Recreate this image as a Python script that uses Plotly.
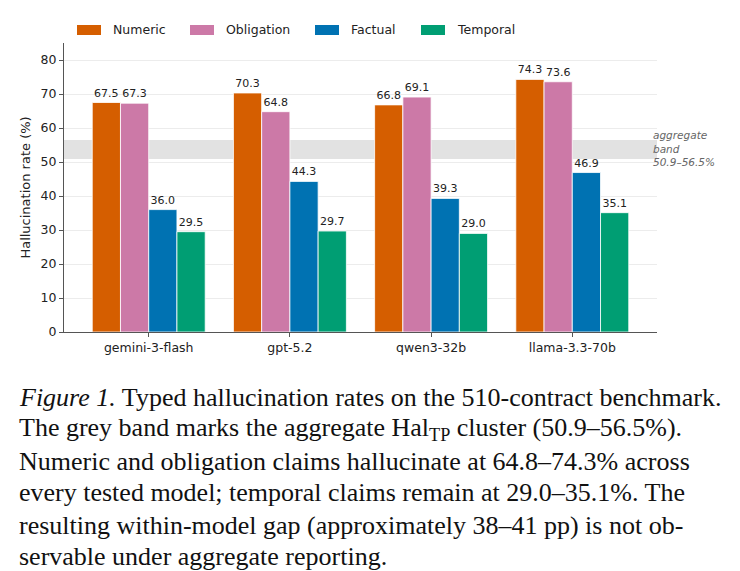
import plotly.graph_objects as go

models = ["gemini-3-flash", "gpt-5.2", "qwen3-32b", "llama-3.3-70b"]
series_names = ["Numeric", "Obligation", "Factual", "Temporal"]
numeric = [67.5, 70.3, 66.8, 74.3]
obligation = [67.3, 64.8, 69.1, 73.6]
factual = [36.0, 44.3, 39.3, 46.9]
temporal = [29.5, 29.7, 29.0, 35.1]
colors = ["#D55E00", "#CC79A7", "#0072B2", "#009E73"]
band_low, band_high = 50.9, 56.5
y_ticks = [0, 10, 20, 30, 40, 50, 60, 70, 80]

caption_lines = [
    "<i>Figure 1.</i> Typed hallucination rates on the 510-contract benchmark.",
    "The grey band marks the aggregate Hal<sub>TP</sub> cluster (50.9–56.5%).",
    "Numeric and obligation claims hallucinate at 64.8–74.3% across",
    "every tested model; temporal claims remain at 29.0–35.1%. The",
    "resulting within-model gap (approximately 38–41 pp) is not ob-",
    "servable under aggregate reporting.",
]

W, H = 740, 571
L, R, T, B = 64, 83, 43, 239
plot_h = H - T - B
plot_w = W - L - R


def px_x(p):
    return (p - L) / plot_w


def px_y(p):
    return (H - B - p) / plot_h


fig = go.Figure()
xs = list(range(len(models)))
for name, vals, col in zip(series_names, [numeric, obligation, factual, temporal], colors):
    fig.add_trace(go.Bar(
        x=xs, y=vals, name=name,
        marker=dict(color=col, line=dict(color="white", width=0.8)),
        texttemplate="%{y:.1f}", textposition="outside",
        textfont=dict(size=11, color="#222", family="DejaVu Sans"),
        cliponaxis=False, showlegend=False,
    ))

fig.add_shape(type="rect", xref="paper", yref="y", x0=0, x1=1,
              y0=band_low, y1=band_high, fillcolor="#e2e2e2",
              line=dict(width=0), layer="below")

fig.add_annotation(xref="paper", yref="y", x=px_x(651), y=(band_low + band_high) / 2 + 0.2,
                   text="<i>aggregate<br>band<br>50.9–56.5%</i>", showarrow=False,
                   xanchor="left", yanchor="middle", align="left",
                   font=dict(size=10.5, color="#666", family="DejaVu Sans"))

# manual legend (wide swatches as in the reference)
swatch_left = [77, 190, 315, 421]
for name, col, sx in zip(series_names, colors, swatch_left):
    fig.add_shape(type="rect", xref="paper", yref="paper",
                  x0=px_x(sx), x1=px_x(sx + 24), y0=px_y(35), y1=px_y(25),
                  fillcolor=col, line=dict(width=0))
    fig.add_annotation(xref="paper", yref="paper", x=px_x(sx + 34), y=px_y(30),
                       text=name, showarrow=False, xanchor="left", yanchor="middle",
                       font=dict(size=12.5, color="#222", family="DejaVu Sans"))

line_ys = [397, 429, 461, 493, 525, 556]
for txt, py in zip(caption_lines, line_ys):
    fig.add_annotation(xref="paper", yref="paper", x=px_x(17),
                       y=px_y(py), text=txt, showarrow=False,
                       xanchor="left", yanchor="middle", align="left",
                       font=dict(size=26, color="#111", family="Liberation Serif"))

fig.update_layout(
    width=W, height=H,
    margin=dict(l=L, r=R, t=T, b=B, autoexpand=False),
    paper_bgcolor="white", plot_bgcolor="white",
    barmode="group", bargap=0.2, bargroupgap=0,
    font=dict(family="DejaVu Sans", size=12, color="#222"),
    showlegend=False,
    xaxis=dict(range=[-0.6, 3.6], tickmode="array", tickvals=xs, ticktext=models,
               showline=True, linecolor="#555", linewidth=1.2, ticks="outside",
               ticklen=4, tickcolor="#555", showgrid=False, zeroline=False,
               tickfont=dict(size=12.5, color="#222")),
    yaxis=dict(range=[0, 85], tickmode="array", tickvals=y_ticks,
               showline=True, linecolor="#555", linewidth=1.2, ticks="outside",
               ticklen=4, tickcolor="#555", showgrid=True, gridcolor="#ececec",
               gridwidth=0.8, zeroline=False, tickfont=dict(size=12.5, color="#222"),
               title=dict(text="Hallucination rate (%)", font=dict(size=13, color="#222"), standoff=6)),
)

fig.write_html("out.html")
